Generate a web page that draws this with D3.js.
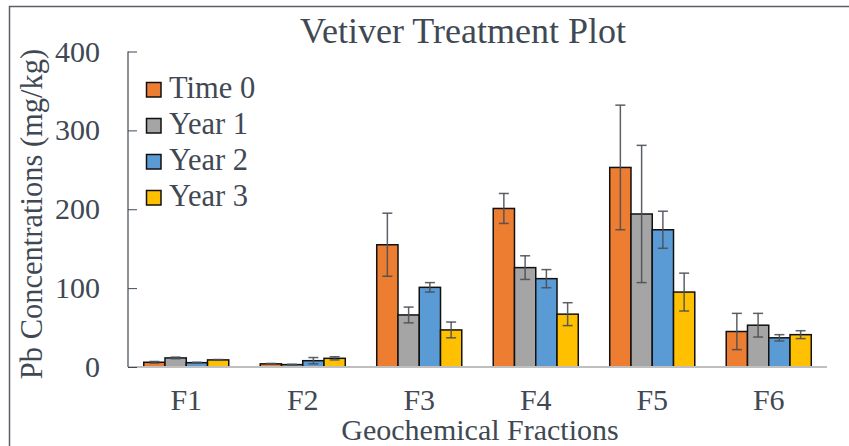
<!DOCTYPE html>
<html lang="en">
<head>
    <meta charset="UTF-8">
    <script src="https://cdnjs.cloudflare.com/ajax/libs/d3/7.8.5/d3.min.js"></script>
    <title>Vetiver Treatment Plot</title>
    <style>
        body { margin: 0; background: #fff; }
    </style>
</head>
<body>
    <div id="content"></div>
<script>
    const categories = ['F1', 'F2', 'F3', 'F4', 'F5', 'F6'];
    const seriesNames = ['Time 0', 'Year 1', 'Year 2', 'Year 3'];
    const time0 = [6, 4, 155, 201, 253, 45];
    const year1 = [11.5, 3, 66, 126, 194, 53];
    const year2 = [5.5, 8, 101, 112, 174, 37];
    const year3 = [9, 11, 47, 67, 95, 41];
    const time0Err = [1, 0.5, 40, 19, 79, 23];
    const year1Err = [1, 0.5, 10, 15, 87, 15];
    const year2Err = [0.5, 4, 6, 11.5, 23.5, 4];
    const year3Err = [0.5, 2, 10, 14.5, 24, 5];
    const yTicks = [0, 100, 200, 300, 400];
    const colors = ['#ED7D31', '#A5A5A5', '#5B9BD5', '#FFC000'];

    const values = [time0, year1, year2, year3];
    const errors = [time0Err, year1Err, year2Err, year3Err];
    const textColor = '#404853';
    const serif = "'Liberation Serif', Tinos, 'Times New Roman', 'DejaVu Serif', serif";

    const width = 849;
    const height = 446;
    const plotLeft = 128, plotRight = 827, plotTop = 51.5, plotBottom = 367;

    const svg = d3.select('#content')
        .append('svg')
        .attr('width', width)
        .attr('height', height)
        .style('display', 'block')
        .attr('font-family', serif);

    // frame
    svg.append('rect')
        .attr('x', 9.5).attr('y', 6.5)
        .attr('width', width + 20).attr('height', height + 20)
        .attr('fill', 'none')
        .attr('stroke', '#5a6068')
        .attr('stroke-width', 1.5);

    const x0 = d3.scaleBand().domain(categories).range([plotLeft, plotRight]).paddingInner(0.27).paddingOuter(0.135);
    const x1 = d3.scaleBand().domain(seriesNames).range([0, x0.bandwidth()]);
    const y = d3.scaleLinear().domain([0, 400]).range([plotBottom, plotTop]);

    // title
    svg.append('text')
        .text('Vetiver Treatment Plot')
        .attr('x', 463).attr('y', 43)
        .attr('text-anchor', 'middle')
        .style('font-size', '36px')
        .style('fill', textColor);

    // bars
    const rows = [];
    categories.forEach((c, i) => {
        seriesNames.forEach((s, j) => {
            rows.push({ cat: c, series: s, j: j, v: values[j][i], e: errors[j][i] });
        });
    });

    svg.append('g').selectAll('rect')
        .data(rows)
        .enter()
        .append('rect')
        .attr('x', d => x0(d.cat) + x1(d.series))
        .attr('y', d => y(d.v))
        .attr('width', x1.bandwidth())
        .attr('height', d => y(0) - y(d.v))
        .style('fill', d => colors[d.j])
        .style('stroke', '#111')
        .style('stroke-width', 1.5);

    // x baseline
    svg.append('line')
        .attr('x1', plotLeft).attr('x2', plotRight)
        .attr('y1', y(0)).attr('y2', y(0))
        .style('stroke', '#BFBFBF')
        .style('stroke-width', 2);

    // error bars
    const eb = svg.append('g').selectAll('g')
        .data(rows)
        .enter()
        .append('g')
        .style('stroke', '#4a4f57')
        .style('stroke-opacity', 0.9)
        .style('stroke-width', 1.5);
    const cx = d => x0(d.cat) + x1(d.series) + x1.bandwidth() / 2;
    eb.append('line')
        .attr('x1', cx).attr('x2', cx)
        .attr('y1', d => y(d.v + d.e)).attr('y2', d => y(Math.max(0, d.v - d.e)));
    eb.append('line')
        .attr('x1', d => cx(d) - 5).attr('x2', d => cx(d) + 5)
        .attr('y1', d => y(d.v + d.e)).attr('y2', d => y(d.v + d.e));
    eb.append('line')
        .attr('x1', d => cx(d) - 5).attr('x2', d => cx(d) + 5)
        .attr('y1', d => y(Math.max(0, d.v - d.e))).attr('y2', d => y(Math.max(0, d.v - d.e)));

    // y axis (ticks inside)
    const yAxis = svg.append('g')
        .attr('transform', `translate(${plotLeft},0)`)
        .call(d3.axisRight(y).tickValues(yTicks).tickSize(9).tickFormat(''));
    yAxis.select('.domain').remove();
    yAxis.selectAll('line').style('stroke', textColor).style('stroke-width', 1);
    svg.append('line')
        .attr('x1', plotLeft).attr('x2', plotLeft)
        .attr('y1', plotTop).attr('y2', plotBottom)
        .style('stroke', textColor).style('stroke-width', 1.2);

    svg.append('g').selectAll('text')
        .data(yTicks)
        .enter()
        .append('text')
        .text(d => d)
        .attr('x', 100)
        .attr('y', d => y(d) + 10)
        .attr('text-anchor', 'end')
        .style('font-size', '30px')
        .style('fill', textColor);

    // x labels
    svg.append('g').selectAll('text')
        .data(categories)
        .enter()
        .append('text')
        .text(d => d)
        .attr('x', d => x0(d) + x0.bandwidth() / 2)
        .attr('y', 410)
        .attr('text-anchor', 'middle')
        .style('font-size', '30px')
        .style('fill', textColor);

    svg.append('text')
        .text('Geochemical Fractions')
        .attr('x', 480).attr('y', 440)
        .attr('text-anchor', 'middle')
        .style('font-size', '30px')
        .style('fill', textColor);

    svg.append('text')
        .text('Pb Concentrations (mg/kg)')
        .attr('transform', 'translate(42,214) rotate(-90)')
        .attr('text-anchor', 'middle')
        .style('font-size', '30.5px')
        .style('fill', textColor);

    // legend
    const legend = svg.append('g').selectAll('g')
        .data(seriesNames)
        .enter()
        .append('g')
        .attr('transform', (d, i) => `translate(146,${97.5 + i * 36})`);
    legend.append('rect')
        .attr('x', 0.5).attr('y', -15)
        .attr('width', 14.5).attr('height', 14.5)
        .style('fill', (d, i) => colors[i])
        .style('stroke', '#111')
        .style('stroke-width', 1.5);
    legend.append('text')
        .text(d => d)
        .attr('x', 23).attr('y', 0)
        .style('font-size', '30.5px')
        .style('fill', textColor);
</script>
</body>
</html>
